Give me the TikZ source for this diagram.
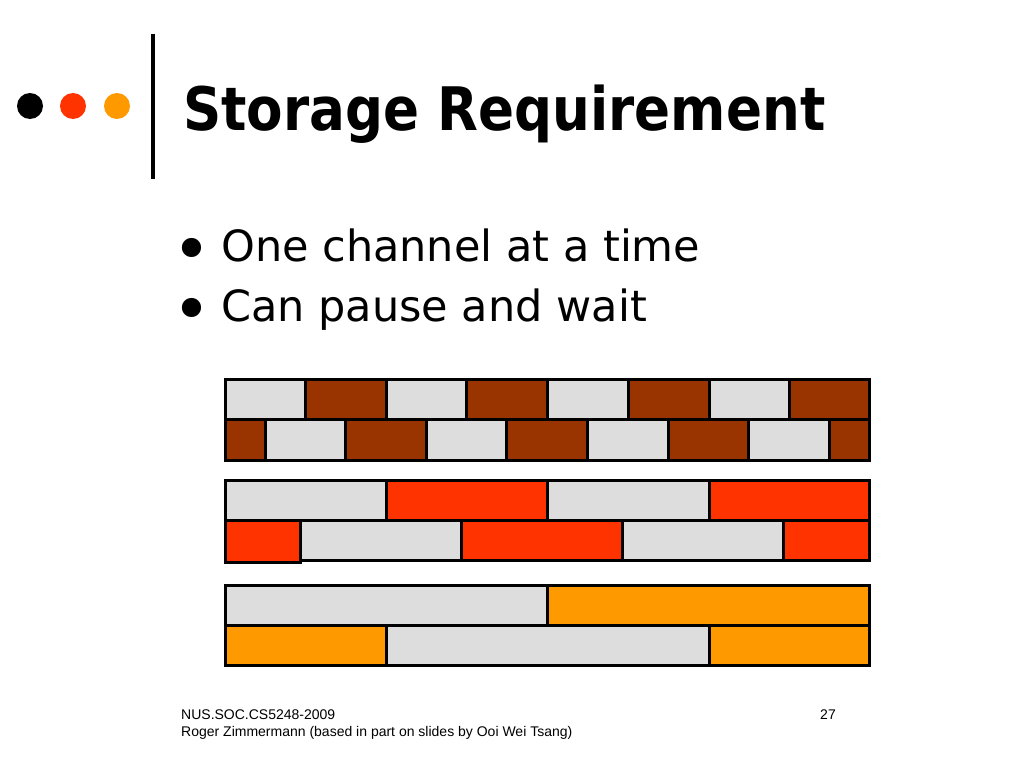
\documentclass[tikz,border=0pt]{standalone}
\usepackage{fontspec}
\setmainfont{DejaVu Sans}
\newfontfamily\footfont{Liberation Sans}
\usetikzlibrary{positioning}

\definecolor{lg}{HTML}{DDDDDD}
\definecolor{br}{HTML}{993300}
\definecolor{rd}{HTML}{FF3300}
\definecolor{og}{HTML}{FF9900}

\tikzset{
  brick/.style={draw=black, line width=3pt},
  dot/.style={circle, inner sep=0pt, minimum size=26pt},
  foot/.style={inner sep=0pt, font=\footfont\fontsize{14}{15}\selectfont}
}

\begin{document}
\begin{tikzpicture}[x=1pt,y=-1pt]
	\useasboundingbox (0,0) rectangle (1024,768);

	% dots and bar
	\node (d1) [dot, fill=black] at (30,106) {};
	\node (d2) [dot, fill=rd] at (73,106) {};
	\node (d3) [dot, fill=og] at (117,106) {};
	\draw [line width=4pt] (153,34) -- (153,179);

	\node (title) [anchor=base west, inner sep=0pt, xscale=0.885] at (183,130)
		{\fontsize{60}{60}\selectfont\bfseries Storage Requirement};

	% bullets
	\node (b1) [anchor=base west, inner sep=0pt] at (221,261)
		{\fontsize{43}{43}\selectfont One channel at a time};
	\node (b2) [anchor=base west, inner sep=0pt] at (221,321)
		{\fontsize{43}{43}\selectfont Can pause and wait};
	\node (p1) [left=9pt of b1.base west, anchor=base east, inner sep=0pt, yshift=-11pt] {\fontsize{66}{66}\selectfont •};
	\node (p2) [left=9pt of b2.base west, anchor=base east, inner sep=0pt, yshift=-11pt] {\fontsize{66}{66}\selectfont •};

	% brown rows
	\foreach \a/\b/\c in {225/305/lg, 305/386/br, 386/466/lg, 466/547/br,
		547/628/lg, 628/709/br, 709/789/lg, 789/869/br}
		\draw [brick, fill=\c] (\a,379) rectangle (\b,419);
	\foreach \a/\b/\c in {225/265/br, 265/345/lg, 345/426/br, 426/506/lg, 506/587/br,
		587/668/lg, 668/748/br, 748/829/lg, 829/869/br}
		\draw [brick, fill=\c] (\a,419) rectangle (\b,460);

	% red rows
	\foreach \a/\b/\c in {225/386/lg, 386/547/rd, 547/709/lg, 709/869/rd}
		\draw [brick, fill=\c] (\a,480) rectangle (\b,520);
	\foreach \a/\b/\c in {300/461/lg, 461/622/rd, 622/783/lg, 783/869/rd}
		\draw [brick, fill=\c] (\a,520) rectangle (\b,560);
	\draw [brick, fill=rd] (225,520) rectangle (300,562);

	% orange rows
	\foreach \a/\b/\c in {225/547/lg, 547/869/og}
		\draw [brick, fill=\c] (\a,585) rectangle (\b,625);
	\foreach \a/\b/\c in {225/386/og, 386/709/lg, 709/869/og}
		\draw [brick, fill=\c] (\a,625) rectangle (\b,665);

	% footer
	\node (f1) [foot, anchor=base west] at (181,719) {NUS.SOC.CS5248-2009};
	\node (f2) [foot, anchor=base west] at (181,736) {Roger Zimmermann (based in part on slides by Ooi Wei Tsang)};
	\node (pg) [foot, anchor=base east] at (836,719) {27};
\end{tikzpicture}
\end{document}
